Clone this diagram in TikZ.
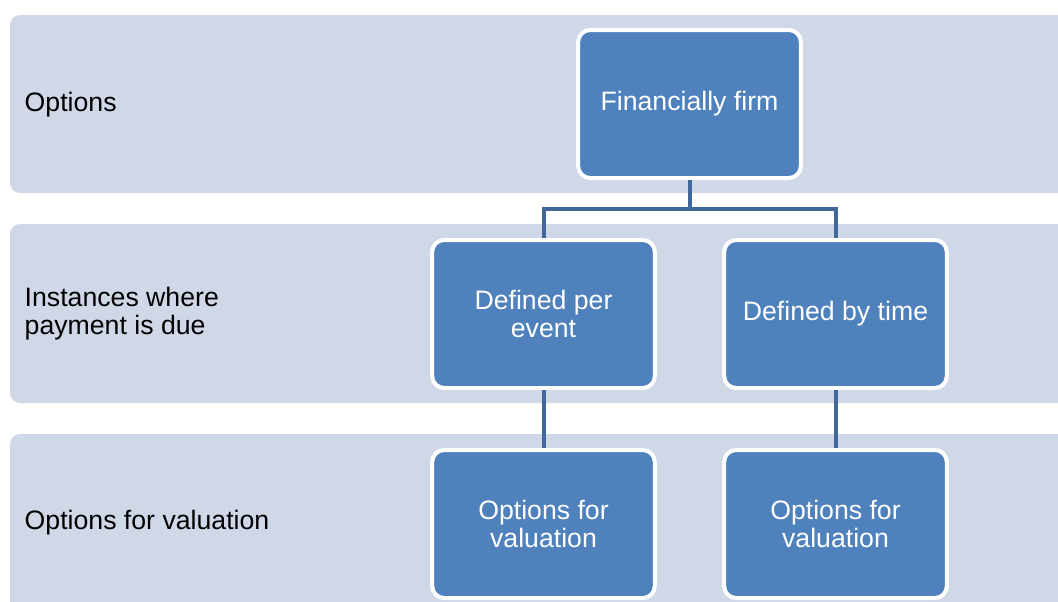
\documentclass[tikz,border=0pt]{standalone}
\usepackage{fontspec}
\setmainfont{Liberation Sans}
\definecolor{bandfill}{HTML}{D0D8E8}
\definecolor{boxfill}{HTML}{4F81BD}
\definecolor{linkcol}{HTML}{41689A}
\begin{document}
\begin{tikzpicture}[x=0.75pt,y=-0.75pt,
    band/.style={fill=bandfill,rounded corners=7.5pt},
    lbl/.style={anchor=west,align=left,font=\fontsize{20}{21}\selectfont},
    box/.style={draw=white,line width=3pt,fill=boxfill,rounded corners=9pt,
      minimum width=167pt,minimum height=111pt,align=center,text=white,
      font=\fontsize{20}{21}\selectfont},
    link/.style={draw=linkcol,line width=3pt}]
      \useasboundingbox (0,0) rectangle (1058,601);
      \clip (0,0) rectangle (1058,601);
      % bands
      \fill[band] (10,15) rectangle (1075,193);
      \fill[band] (10,224) rectangle (1075,403);
      \fill[band] (10,434) rectangle (1075,625);
      \node[lbl] (opt) at (20,105) {Options};
      \node[lbl] (inst) at (20,314) {Instances where\\payment is due};
      \node[lbl] (val) at (20,523) {Options for valuation};
      % boxes
      \node[box] (firm) at (689.5,104) {Financially firm};
      \node[box] (event) at (543.5,314) {Defined per\\event};
      \node[box] (time) at (835.5,314) {Defined by time};
      \node[box] (valA) at (543.5,524) {Options for\\valuation};
      \node[box] (valB) at (835.5,524) {Options for\\valuation};
      \coordinate (split) at (689.5,209);
      \begin{scope}[link]
        \draw (firm.south) -- (split);
        \draw (event.north) |- (split);
        \draw (time.north) |- (split);
        \draw (event.south) -- (valA.north);
        \draw (time.south) -- (valB.north);
      \end{scope}
    \end{tikzpicture}
\end{document}
